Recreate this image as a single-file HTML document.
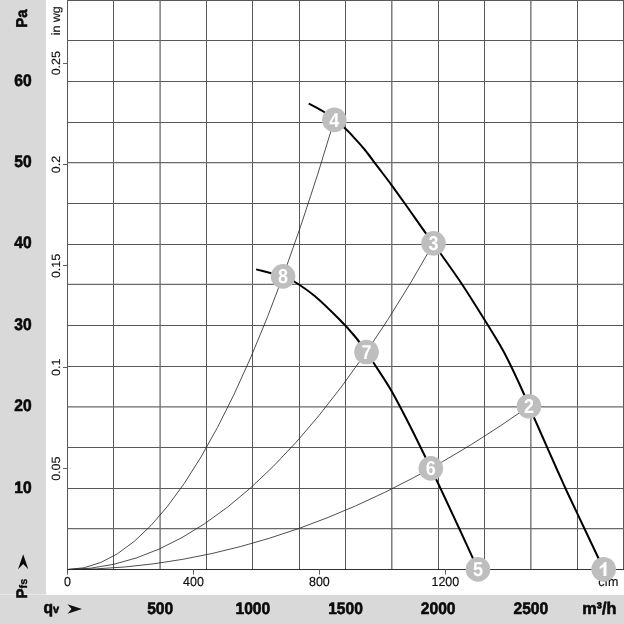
<!DOCTYPE html><html><head><meta charset="utf-8"><style>
html,body{margin:0;padding:0;background:#fff}svg{display:block;will-change:transform;filter:grayscale(1)}text{font-family:"Liberation Sans",sans-serif;text-rendering:geometricPrecision}
.b{font-weight:bold;font-size:15px;fill:#0a0a0a;stroke:#0a0a0a;stroke-width:0.55px;stroke-linejoin:round}.s{font-size:12px;fill:#111;stroke:#111;stroke-width:0.15px}.m{font-weight:bold;font-size:18px;fill:#fff}
</style></head><body>
<svg width="624" height="624" viewBox="0 0 624 624">
<rect width="624" height="624" fill="#fff"/>
<rect x="0" y="0" width="46" height="594.6" fill="#d9d9d9"/>
<rect x="0" y="594.9" width="624" height="29.1" fill="#d9d9d9"/>
<path d="M67.50 0V569.50M113.50 0V569.50M206.50 0V569.50M252.50 0V569.50M299.50 0V569.50M345.50 0V569.50M438.50 0V569.50M484.50 0V569.50M577.50 0V569.50M623.50 0V569.50M67.50 0.50H624M67.50 40.50H624M67.50 81.50H624M67.50 122.50H624M67.50 203.50H624M67.50 244.50H624M67.50 325.50H624M67.50 366.50H624M67.50 447.50H624M67.50 488.50H624" stroke="#585858" stroke-width="1" fill="none"/>
<path d="M160.10 0V569.50M391.80 0V569.50M530.85 0V569.50M67.50 162.55H624M67.50 284.45H624M67.50 406.90H624M67.50 528.65H624" stroke="#6a6a6a" stroke-width="1.3" fill="none"/>
<path d="M67.00 569.50H624" stroke="#303030" stroke-width="1.0" fill="none"/>
<path d="M63 468.50H67.00M63 367.50H67.00M63 265.50H67.00M63 164.50H67.00M63 63.50H67.00M67.50 569.50V574.6M193.50 569.50V574.6M319.50 569.50V574.6M445.50 569.50V574.6" stroke="#606060" stroke-width="1" fill="none"/>
<path d="M67.50 569.50 Q200.93 569.50 334.35 119.90" stroke="#222" stroke-width="0.8" fill="none"/>
<path d="M67.50 569.50 Q250.50 569.50 433.50 243.35" stroke="#222" stroke-width="0.8" fill="none"/>
<path d="M67.50 569.50 Q298.23 569.50 528.95 406.30" stroke="#222" stroke-width="0.8" fill="none"/>
<path d="M308.70 103.60 C311.21 104.96 319.48 109.03 323.75 111.75 C328.02 114.47 330.73 117.07 334.35 119.90 C337.98 122.73 342.06 125.63 345.50 128.75 C348.94 131.87 351.75 135.06 355.00 138.60 C358.25 142.14 361.17 145.23 365.00 150.00 C368.83 154.77 373.67 161.48 378.00 167.20 C382.33 172.92 386.50 178.21 391.00 184.30 C395.50 190.39 399.33 195.77 405.00 203.75 C410.67 211.73 420.25 225.60 425.00 232.20 C429.75 238.80 430.79 239.63 433.50 243.35 C436.21 247.07 436.42 247.56 441.25 254.50 C446.08 261.44 455.21 274.00 462.50 285.00 C469.79 296.00 478.96 310.83 485.00 320.50 C491.04 330.17 494.92 336.42 498.75 343.00 C502.58 349.58 503.88 351.67 508.00 360.00 C512.12 368.33 520.01 385.28 523.50 393.00 C526.99 400.72 527.13 402.05 528.95 406.30 C530.77 410.55 532.64 414.55 534.40 418.50 C536.16 422.45 535.70 421.42 539.50 430.00 C543.30 438.58 552.75 460.00 557.20 470.00 C561.65 480.00 561.55 480.00 566.20 490.00 C570.85 500.00 578.86 516.80 585.10 530.00 C591.35 543.20 600.57 562.67 603.67 569.20" stroke="#000" stroke-width="2.0" fill="none" stroke-linecap="butt"/>
<path d="M256.10 269.40 C260.58 270.56 276.73 274.38 283.00 276.35 C289.27 278.33 288.42 277.93 293.75 281.25 C299.08 284.57 307.29 289.79 315.00 296.25 C322.71 302.71 333.33 313.29 340.00 320.00 C346.67 326.71 350.58 331.17 355.00 336.50 C359.42 341.83 363.17 347.25 366.50 352.00 C369.83 356.75 370.88 358.58 375.00 365.00 C379.12 371.42 385.62 380.75 391.25 390.50 C396.88 400.25 403.33 412.96 408.75 423.50 C414.17 434.04 420.07 446.27 423.75 453.75 C427.43 461.23 427.88 462.31 430.80 468.35 C433.72 474.39 436.59 480.14 441.25 490.00 C445.91 499.86 452.63 514.27 458.75 527.50 C464.87 540.73 474.75 562.42 477.95 569.40" stroke="#000" stroke-width="2.0" fill="none" stroke-linecap="butt"/>
<text class="s" transform="translate(67.50 585.80) scale(1.040 1.080)" text-anchor="middle">0</text>
<text class="s" transform="translate(193.45 585.80) scale(1.040 1.080)" text-anchor="middle">400</text>
<text class="s" transform="translate(319.40 585.80) scale(1.040 1.080)" text-anchor="middle">800</text>
<text class="s" transform="translate(445.35 585.80) scale(1.040 1.080)" text-anchor="middle">1200</text>
<text class="s" transform="translate(598.30 585.80) scale(1.040 1.080)" text-anchor="start">cfm</text>
<circle cx="603.67" cy="569.20" r="12.3" fill="#bebebe"/>
<path transform="translate(603.67 569.20)" d="M2.8 6.7H-0.2V-2.6Q-1.8 -0.9 -4 -0.1V-2.6Q-0.9 -3.9 0.6 -7.1H2.8Z" fill="#fff"/>
<circle cx="528.95" cy="406.30" r="12.3" fill="#bebebe"/>
<text class="m" transform="translate(528.95 413.10) scale(1.000 1.120)" text-anchor="middle">2</text>
<circle cx="433.50" cy="243.35" r="12.3" fill="#bebebe"/>
<text class="m" transform="translate(433.50 250.15) scale(1.000 1.120)" text-anchor="middle">3</text>
<circle cx="334.35" cy="119.90" r="12.3" fill="#bebebe"/>
<text class="m" transform="translate(334.35 126.70) scale(1.000 1.120)" text-anchor="middle">4</text>
<circle cx="477.95" cy="569.40" r="12.3" fill="#bebebe"/>
<text class="m" transform="translate(477.95 576.20) scale(1.000 1.120)" text-anchor="middle">5</text>
<circle cx="430.80" cy="468.35" r="12.3" fill="#bebebe"/>
<text class="m" transform="translate(430.80 475.15) scale(1.000 1.120)" text-anchor="middle">6</text>
<circle cx="366.50" cy="352.00" r="12.3" fill="#bebebe"/>
<text class="m" transform="translate(366.50 358.80) scale(1.000 1.120)" text-anchor="middle">7</text>
<circle cx="283.00" cy="276.35" r="12.3" fill="#bebebe"/>
<text class="m" transform="translate(283.00 283.15) scale(1.000 1.120)" text-anchor="middle">8</text>
<text class="s" transform="translate(59.80 468.72) rotate(-90) scale(1.040 1.000)" text-anchor="middle">0.05</text>
<text class="s" transform="translate(59.80 367.34) rotate(-90) scale(1.040 1.000)" text-anchor="middle">0.1</text>
<text class="s" transform="translate(59.80 265.96) rotate(-90) scale(1.040 1.000)" text-anchor="middle">0.15</text>
<text class="s" transform="translate(59.80 164.58) rotate(-90) scale(1.040 1.000)" text-anchor="middle">0.2</text>
<text class="s" transform="translate(59.80 63.20) rotate(-90) scale(1.040 1.000)" text-anchor="middle">0.25</text>
<text class="s" transform="translate(59.80 20.80) rotate(-90) scale(1.040 1.000)" text-anchor="middle">in wg</text>
<text class="b" transform="translate(23.00 492.50) scale(1.040 1.120)" text-anchor="middle">10</text>
<text class="b" transform="translate(23.00 411.10) scale(1.040 1.120)" text-anchor="middle">20</text>
<text class="b" transform="translate(23.00 329.70) scale(1.040 1.120)" text-anchor="middle">30</text>
<text class="b" transform="translate(23.00 248.30) scale(1.040 1.120)" text-anchor="middle">40</text>
<text class="b" transform="translate(23.00 166.90) scale(1.040 1.120)" text-anchor="middle">50</text>
<text class="b" transform="translate(23.00 85.50) scale(1.040 1.120)" text-anchor="middle">60</text>
<text class="b" transform="translate(27.30 18.60) rotate(-90) scale(1.000 1.040)" text-anchor="middle">Pa</text>
<text class="b" transform="translate(27.00 598.40) rotate(-90) scale(1.000 1.020)" text-anchor="start">P<tspan style="font-size:10.8px;stroke-width:0.3px">fs</tspan></text>
<path d="M18.0 569.3L23.2 554.2L28.3 569.3L23.2 564.0Z" fill="#0a0a0a"/>
<text class="b" transform="translate(160.17 614.10) scale(1.040 1.120)" text-anchor="middle">500</text>
<text class="b" transform="translate(252.83 614.10) scale(1.040 1.120)" text-anchor="middle">1000</text>
<text class="b" transform="translate(345.50 614.10) scale(1.040 1.120)" text-anchor="middle">1500</text>
<text class="b" transform="translate(438.16 614.10) scale(1.040 1.120)" text-anchor="middle">2000</text>
<text class="b" transform="translate(530.83 614.10) scale(1.040 1.120)" text-anchor="middle">2500</text>
<text class="b" transform="translate(599.30 614.10) scale(1.080 1.120)" text-anchor="middle">m³/h</text>
<text class="b" transform="translate(43.50 613.40) scale(1.040 1.120)" text-anchor="start">q<tspan style="font-size:10.5px">v</tspan></text>
<path d="M67.5 604.3L82 609L67.5 613.8L71.5 609Z" fill="#111"/>
</svg></body></html>
